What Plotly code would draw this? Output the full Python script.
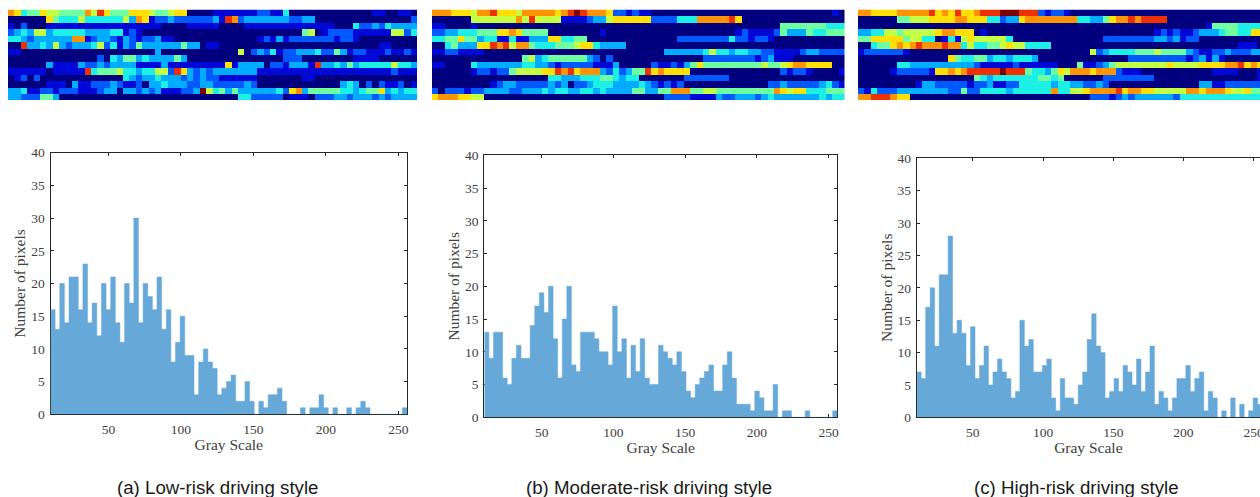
import numpy as np
import plotly.graph_objects as go

W, H = 1260, 497

# Heatmap cells: one code per cell, 0 (lowest) ... 9, A (highest), grouped in eights.
heat_low = [
 "87455766 55558697 55577765 56770000 11111112 21140000 00000000 01100110",
 "00000075 44464444 44638712 23222222 31982333 33332233 00000000 00000002",
 "10200011 11111111 11111111 00001111 10000111 11111111 11100042 23243333",
 "23436634 44443333 44121000 00000000 00000000 00000056 01222211 11116624",
 "44323333 33881233 21321223 11000000 00000001 21312222 22212210 00000000",
 "00933436 32333462 41325333 33353301 10000000 00000000 00000000 00110000",
 "11000000 00000000 00000003 00000000 00006023 24122333 42253122 11121121",
 "00000000 00000020 43553433 33530000 00000000 00022200 00000011 11000000",
 "00000031 11132232 33331111 31111111 11713333 02213331 93343534 44446443",
 "11111101 11119455 56443446 62973232 33333331 11111111 11111111 11112111",
 "01202000 00000000 00432334 33323232 21111110 00000011 00000000 00000000",
 "00000011 10311222 32112033 43332233 22222320 00000000 00003430 20211201",
 "33411221 22211123 30332323 111223A6 45353333 33427835 55554434 55734344",
 "33222553 00000000 00000000 00000000 00004422 22201110 22233233 32323333",
]
heat_mod = [
 "88877768 89777688 888789A9 88872212 11000000 00000000 00000000 00000010",
 "00000066 66666869 66661111 23367777 77222244 48888897 00000000 00000000",
 "11000010 00000000 00000000 00000000 00000000 00000000 00000055 55555444",
 "22334445 55778755 55000000 00100000 00000000 00000001 21111253 33544555",
 "44557553 44114113 33774455 00000000 00000022 22222242 21221000 00000000",
 "00453337 79896885 44455567 74333300 00000000 00000000 00000000 00000000",
 "11221111 00000000 00000000 00000000 00003333 33464434 43322111 12332222",
 "00000000 00000056 34555555 32020000 00000000 00222222 22123111 00000000",
 "11000043 33333344 33212222 21113000 00211213 57555555 55565567 88777700",
 "00000012 21225666 67798978 88324235 59787777 00000000 00000021 22100001",
 "00000000 00000000 00443334 44554344 00000002 22222200 00000000 00000000",
 "00000000 01233222 22323022 34443333 43212120 00000000 00002232 22223421",
 "20222122 33332233 34344334 43433335 53355888 55665555 55555876 77444555",
 "78887766 00000000 00000000 00000000 00002222 11113223 33234333 33334344",
]
heat_high = [
 "88777788 88897879 778999AA A9992122 10000000 00000000 00000000 00000000",
 "00000055 66677778 87774423 37888888 88443357 88989999 00000000 00000000",
 "00000000 00000000 00000000 00000000 00000000 00000000 00000015 55544444",
 "33446656 66667887 77010000 00000000 00000000 00000012 12112333 45544777",
 "55777775 66440141 67666664 00000000 00000022 22222233 23122000 00000000",
 "00455787 89888988 46445567 66444400 00000000 00000000 00000000 00011100",
 "12222221 00000000 00000000 00000000 00006234 44455565 55532112 23222332",
 "00000000 00000075 44553443 44430000 00000000 00222222 22212313 10000000",
 "00000044 33333333 33211111 21111110 00511235 66666666 76666777 78897877",
 "00000122 22217787 899999A9 99544357 68887888 21110000 00000001 11100011",
 "00000000 00000000 00543444 44445545 00000022 22222200 00000000 00000011",
 "00000000 01332222 21223112 24444434 43322320 00000000 00000331 12222222",
 "21422233 33333322 52244443 44444484 46678888 97887766 66688788 87667555",
 "88999877 00000000 00000000 00000000 00002221 23233333 32444444 44444444",
]

# Histogram counts
hist_low = [16,13,20,14,21,21,16,23,14,17,12,20,16,21,14,11,20,17,30,14,20,18,16,21,13,16,8,11,15,9,
            9,3,8,10,8,7,3,4,5,6,2,2,5,2,0,2,1,3,3,4,2,0,0,0,1,0,1,1,3,1,0,1,0,0,1,0,1,2,1,0,0,0,0,0,0,0,1]
hist_mod = [13,9,13,13,6,5,9,11,9,9,14,17,19,16,20,12,6,15,20,8,7,13,13,13,12,10,10,8,17,10,
            12,6,11,7,12,6,5,5,11,10,9,8,10,7,4,3,5,6,7,8,4,4,8,10,6,2,2,2,1,4,3,1,1,5,0,1,1,0,0,0,1,0,0,0,0,0,1]
hist_high = [7,6,17,20,11,22,22,28,13,15,13,8,14,6,8,11,5,7,9,7,6,3,4,15,11,12,7,7,8,9,
             3,1,6,3,3,2,5,7,12,16,11,10,3,4,6,4,8,7,5,9,4,7,11,2,4,3,1,3,6,6,8,4,6,7,1,4,3,0,1,0,3,0,2,0,1,3,2]

captions = ["(a) Low-risk driving style", "(b) Moderate-risk driving style", "(c) High-risk driving style"]
x_ticks = [50, 100, 150, 200, 250]
y_ticks = [0, 5, 10, 15, 20, 25, 30, 35, 40]
x_title = "Gray Scale"
y_title = "Number of pixels"

JET = ["#00007f", "#0008d8", "#0058ff", "#00acff", "#1cf0e4", "#70ffa0",
       "#c4ff44", "#ffe000", "#ff9400", "#f03000", "#800000"]
colorscale = [[i / 10, c] for i, c in enumerate(JET)]
BAR = "#66a9d8"
INK = "#404040"
SERIF = "Liberation Serif"


def dom_x(a, b):
    return [a / W, min(b / W, 1.0)]


def dom_y(top, bottom):
    return [1 - bottom / H, 1 - top / H]


def decode(rows):
    return [[int(c, 16) for c in r.replace(" ", "")] for r in rows]


fig = go.Figure()
layout = {}
heat_specs = [
    (heat_low, 8, 417, [-0.5, 63.5]),
    (heat_mod, 432, 844.5, [-0.5, 63.5]),
    (heat_high, 858, 1260, [-0.5, 61.9]),
]
for i, (rows, x0, x1, xr) in enumerate(heat_specs):
    n = i + 1
    fig.add_trace(go.Heatmap(z=decode(rows), zmin=0, zmax=10, colorscale=colorscale,
                             showscale=False, xaxis=f"x{n}", yaxis=f"y{n}", hoverinfo="skip"))
    layout[f"xaxis{n}"] = dict(domain=dom_x(x0, x1), range=xr, visible=False, anchor=f"y{n}", automargin=False)
    layout[f"yaxis{n}"] = dict(domain=dom_y(9.5, 100), range=[13.5, -0.5], visible=False, anchor=f"x{n}", automargin=False)

edges = np.linspace(10, 256, 78)
hist_specs = [
    (hist_low, 50.5, 407, 152.7, 414.3, [10, 256], True),
    (hist_mod, 484.3, 837.3, 155.3, 417.3, [10, 256], True),
    (hist_high, 916.7, 1260, 158.3, 417.3, [10, 254.5], False),
]
for i, (vals, x0, x1, top, bottom, xr, right) in enumerate(hist_specs):
    n = i + 4
    # One solid stepped silhouette: the bins touch, as in a histogram with no bar edges.
    fig.add_trace(go.Scatter(x=edges, y=list(vals) + [vals[-1]], mode="lines",
                             line=dict(shape="hv", color=BAR, width=0.5), fill="tozeroy", fillcolor=BAR,
                             xaxis=f"x{n}", yaxis=f"y{n}", showlegend=False))
    axis = dict(showgrid=False, zeroline=False, showline=True, linecolor="#262626", linewidth=1, automargin=False,
                ticks="inside", ticklen=3, tickcolor="#262626", tickwidth=1, layer="below traces",
                ticklabeloverflow="allow", ticklabelstandoff=2,
                tickfont=dict(family=SERIF, size=13.5, color=INK))
    layout[f"xaxis{n}"] = dict(axis, domain=dom_x(x0, x1), range=xr, tickmode="array", tickvals=x_ticks,
                               mirror="ticks", anchor=f"y{n}",
                               title=dict(text=x_title, standoff=3, font=dict(family=SERIF, size=15.5, color=INK)))
    layout[f"yaxis{n}"] = dict(axis, domain=dom_y(top, bottom), range=[0, 40], tickmode="array", tickvals=y_ticks,
                               mirror="ticks" if right else False, anchor=f"x{n}",
                               title=dict(text=y_title, standoff=1, font=dict(family=SERIF, size=15.5, color=INK)))

for text, cx in zip(captions, [217.7, 648.7, 1076]):
    fig.add_annotation(text=text, x=cx / W, y=1 - 487.7 / H, xref="paper", yref="paper", showarrow=False,
                       xanchor="center", yanchor="middle",
                       font=dict(family="Liberation Sans", size=18.7, color="#1a1a1a"))

fig.update_layout(width=W, height=H, margin=dict(l=0, r=0, t=0, b=0, pad=0),
                  paper_bgcolor="white", plot_bgcolor="white", showlegend=False, **layout)
fig.write_html("out.html", config={"displayModeBar": False},
               post_script="document.body.style.margin='0';document.documentElement.style.overflow='hidden';")
